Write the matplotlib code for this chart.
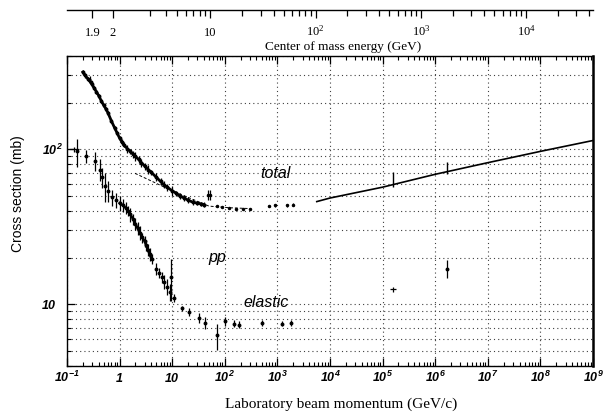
import numpy as np
import matplotlib.pyplot as plt
from matplotlib.ticker import LogLocator, NullFormatter

M_P = 0.938  # proton mass, GeV

# pbar-p total cross section, low momentum data (GeV/c, mb)
tot_p = [0.20, 0.22, 0.25, 0.28, 0.30, 0.33, 0.36, 0.40, 0.45, 0.50,
         0.55, 0.60, 0.70, 0.80, 0.90, 1.0, 1.1, 1.2, 1.4, 1.6,
         1.8, 2.0, 2.3, 2.6, 3.0, 3.5, 4.0, 5.0, 6.0, 7.0,
         8.0, 10, 12, 14, 17, 20, 25, 30, 35, 40]
tot_sig = [315, 300, 285, 270, 262, 248, 236, 222, 205, 192,
           182, 172, 152, 138, 127, 118, 112, 107, 101, 97,
           93, 90, 86, 82, 78, 74, 71, 66, 62, 59,
           57, 54, 52, 50, 48.5, 47, 45.5, 45, 44.5, 44]
tot_err = [12, 10, 9, 8, 8, 7, 7, 6, 6, 5,
           5, 5, 4, 4, 4, 4, 5, 4, 6, 4,
           5, 6, 4, 5, 4, 5, 3, 4, 3, 3,
           3, 4, 2, 2, 2, 2, 2, 1.5, 1.5, 1.5]

# total cross section, higher fixed-target momenta
hi_p = [48, 52, 70, 90, 120, 160, 220, 300, 700, 900, 1500, 2000]
hi_sig = [51, 51, 43, 42.5, 42, 41.5, 41.5, 41.5, 43, 43.5, 43.5, 44]
hi_err = [4, 4, 0.6, 0.6, 0.5, 0.5, 0.5, 0.5, 0.8, 0.8, 0.8, 0.8]

# collider measurements of the total cross section
col_p = [1.6e5, 1.65e6]
col_sig = [64.5, 76]
col_err = [7, 7]

# high energy fit to the total cross section
fit_p = [5.6e3, 1e4, 1e5, 1e6, 1e7, 1e8, 1e9]
fit_sig = [46, 48.5, 57, 69, 82, 97, 114]

# dashed low energy curve
lo_p = [1.96, 10, 50, 120, 280]
lo_sig = [70, 54, 43, 42, 41.5]

# elastic cross section
el_p = [0.155, 0.23, 0.34, 0.42, 0.47, 0.53, 0.60, 0.72, 0.85, 1.0,
        1.15, 1.3, 1.45, 1.6, 1.8, 2.0, 2.2, 2.4, 2.7, 3.0,
        3.2, 3.5, 3.7, 4.1, 5.0, 5.7, 6.4, 6.9, 8.0, 9.0,
        9.6, 11, 15.5, 21, 32, 42, 70, 100, 150, 190,
        500, 1200, 1800, 1.65e6]
el_sig = [97, 90, 84, 74, 66, 58, 54, 49, 47, 45,
          43.5, 42, 40, 38, 35.5, 33, 31, 29, 27, 25.5,
          24, 22.5, 21, 19.6, 17, 16, 15, 14, 13, 12,
          15, 11, 9.4, 8.9, 8.2, 7.6, 6.3, 7.8, 7.5, 7.4,
          7.6, 7.5, 7.6, 17]
el_err = [20, 9, 12, 12, 10, 12, 8, 6, 5, 5,
          4, 4, 3, 4, 3, 3, 3, 3, 2, 2,
          2, 2, 2, 1.5, 1.5, 1.2, 1.2, 1.5, 1.5, 1.5,
          4.5, 0.6, 0.4, 0.5, 0.6, 0.7, 1.2, 0.5, 0.4, 0.4,
          0.3, 0.3, 0.3, 2.3]

# points drawn with horizontal bars
cross_p = [0.135, 0.27, 1.6e5]
cross_sig = [100, 283, 12.5]
cross_xlo = [0.026, 0.02, 2e4]
cross_xhi = [0.034, 0.02, 2e4]

x_ticks = [1e-1, 1, 10, 1e2, 1e3, 1e4, 1e5, 1e6, 1e7, 1e8, 1e9]
x_labels = [r'$\mathdefault{10^{-1}}$', '1', '10'] + \
           [r'$\mathdefault{10^{%d}}$' % k for k in range(2, 10)]
y_ticks = [10, 100]
y_labels = ['10', r'$\mathdefault{10^{2}}$']
ecm_ticks = [1.9, 2, 10, 1e2, 1e3, 1e4]
ecm_labels = ['1.9', '2', '10', r'$\mathdefault{10^{2}}$',
              r'$\mathdefault{10^{3}}$', r'$\mathdefault{10^{4}}$']
ecm_minor = [3, 4, 5, 6, 7, 8, 9, 20, 30, 40, 50, 60, 70, 80, 90,
             200, 300, 400, 500, 600, 700, 800, 900,
             2000, 3000, 4000, 5000, 6000, 7000, 8000, 9000,
             2e4, 3e4, 4e4]


def plab_to_ecm(p):
    p = np.asarray(p, dtype=float)
    return np.sqrt(2 * M_P**2 + 2 * M_P * np.sqrt(p**2 + M_P**2))


def ecm_to_plab(w):
    w = np.asarray(w, dtype=float)
    e = (w**2 - 2 * M_P**2) / (2 * M_P)
    return np.sqrt(np.clip(e**2 - M_P**2, 1e-12, None))


fig = plt.figure(figsize=(6.07, 4.16), dpi=100)
ax = fig.add_axes([0.1104, 0.1202, 0.8666, 0.7452])
ax.set_xscale('log')
ax.set_yscale('log')
ax.set_xlim(1e-1, 1e9)
ax.set_ylim(4, 400)

dots = (0, (1, 2.8))
ax.set_axisbelow(True)
ax.grid(True, which='major', axis='x', color='0.25', linestyle=dots, linewidth=0.8)
ax.grid(True, which='both', axis='y', color='0.25', linestyle=dots, linewidth=0.8)

# dense data sets read as a thick band
ax.plot(tot_p, tot_sig, color='black', linewidth=2.0)
ax.plot(el_p[9:24], el_sig[9:24], color='black', linewidth=1.8)

eb = dict(fmt='o', color='black', markersize=1.8, elinewidth=0.9, capsize=0)
ax.errorbar(tot_p, tot_sig, yerr=tot_err, **eb)
ax.errorbar(hi_p, hi_sig, yerr=hi_err, fmt='o', color='black', markersize=1.5,
            elinewidth=0.9, capsize=0)
ax.errorbar(col_p, col_sig, yerr=col_err, fmt='none', ecolor='black',
            elinewidth=1.0, capsize=0)
ax.errorbar(el_p, el_sig, yerr=el_err, **eb)
ax.errorbar(cross_p, cross_sig, xerr=[cross_xlo, cross_xhi], yerr=[4, 12, 0.5],
            fmt='none', ecolor='black', elinewidth=0.9, capsize=0)
ax.plot(fit_p, fit_sig, color='black', linewidth=1.2)
ax.plot(lo_p, lo_sig, color='black', linewidth=0.7, linestyle=(0, (3, 2)))

lbl = dict(fontsize=11.5, fontstyle='italic', family='Liberation Sans',
           ha='center', va='center')
ax.text(900, 70, 'total', **lbl)
ax.text(71, 20, 'pp', **lbl)
ax.text(600, 10.3, 'elastic', **lbl)

tick_font = dict(family='Liberation Sans', fontsize=9, fontstyle='italic',
                 fontweight='bold')
ax.set_xticks(x_ticks, x_labels, va='baseline', **tick_font)
ax.xaxis.set_minor_locator(LogLocator(base=10, subs=np.arange(2, 10), numticks=200))
ax.xaxis.set_minor_formatter(NullFormatter())
ax.set_yticks(y_ticks, y_labels, ha='left', **tick_font)
ax.yaxis.set_minor_locator(LogLocator(base=10, subs=np.arange(2, 10), numticks=50))
ax.yaxis.set_minor_formatter(NullFormatter())
ax.tick_params(axis='x', which='both', direction='in', top=True, bottom=True, pad=11.5)
ax.tick_params(axis='y', which='both', direction='in', left=True, right=False, pad=18)
ax.tick_params(which='major', length=6, width=0.9)
ax.tick_params(which='minor', length=3.2, width=0.8)
for side in ['left', 'top', 'bottom']:
    ax.spines[side].set_linewidth(1.0)
ax.spines['right'].set_linewidth(1.8)

ax.set_xlabel('Laboratory beam momentum (GeV/c)', family='Liberation Serif',
              fontsize=11, va='center')
ax.xaxis.set_label_coords(0.521, -0.1226)
ax.set_ylabel('Cross section (mb)', family='Liberation Sans', fontsize=10,
              va='center')
ax.yaxis.set_label_coords(-0.0932, 0.555)

# centre-of-mass energy scale above the frame
sec = ax.secondary_xaxis(1.148, functions=(plab_to_ecm, ecm_to_plab))
sec.set_alignment('bottom')
sec.set_xticks(ecm_ticks, ecm_labels, family='Liberation Serif', fontsize=9,
               va='baseline')
sec.set_xticks(ecm_minor, minor=True)
sec.xaxis.set_minor_formatter(NullFormatter())
sec.tick_params(which='both', direction='out', width=0.9)
sec.tick_params(which='major', length=6, pad=12.5)
sec.tick_params(which='minor', length=4)
sec.spines['bottom'].set_linewidth(1.0)
fig.text(343 / 607, 1 - 47 / 416, 'Center of mass energy (GeV)',
         family='Liberation Serif', fontsize=9.5, ha='center', va='center')

fig.savefig('out.png', dpi=100)
